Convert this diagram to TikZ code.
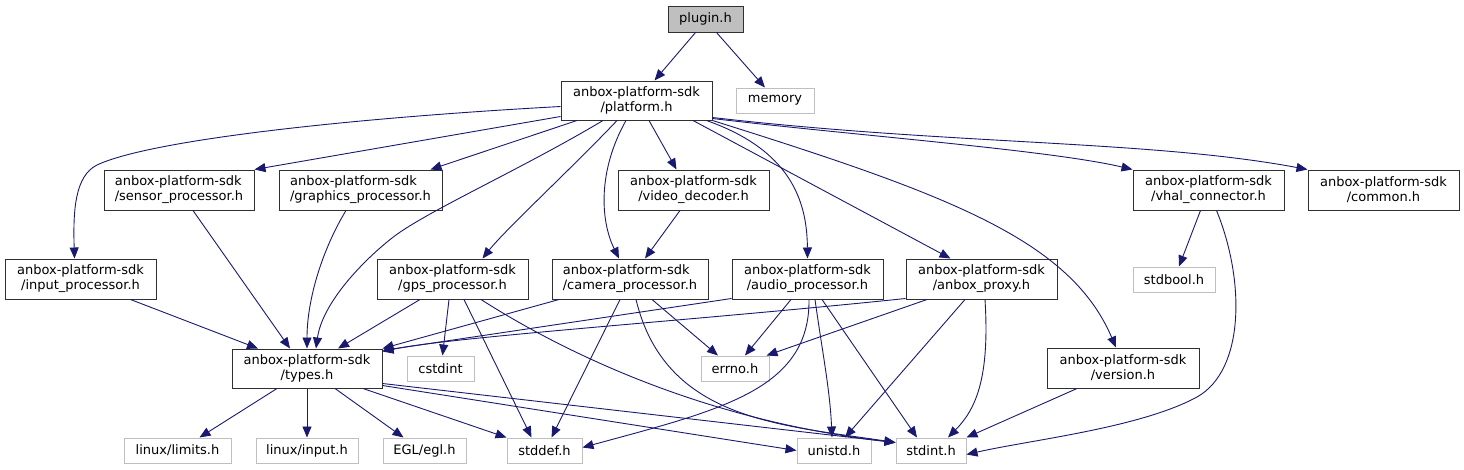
\documentclass[tikz,border=0pt]{standalone}
\usepackage{fontspec}
\setmainfont{DejaVu Sans}
\usetikzlibrary{arrows.meta}
\definecolor{edgecol}{HTML}{191970}
\definecolor{lgray}{HTML}{BFBFBF}
\definecolor{bord}{HTML}{303030}
\begin{document}
\begin{tikzpicture}[x=1pt,y=-1pt,font=\fontsize{13}{15}\selectfont,
  nb/.style={draw=bord,line width=1pt,inner sep=0pt,align=center,minimum height=40pt,minimum width=151pt},
  ext/.style={draw=lgray,line width=1pt,inner sep=0pt,minimum height=25pt},
  e/.style={draw=edgecol,line width=0.9pt,-{Triangle[length=11pt,width=9pt]}}]
\useasboundingbox (0,0) rectangle (1464,469);
% nodes
\node[draw=bord,line width=1pt,fill=lgray,inner sep=0pt,minimum width=75pt,minimum height=26pt] (plugin) at (705.5,19) {plugin.h};
\node[nb,minimum height=39pt] (platform) at (636.5,100.5) {anbox-platform-sdk\\/platform.h};
\node[ext,minimum width=78pt] (memory) at (775,100.5) {memory};
\node[nb,minimum width=150pt,align=left] (sensor) at (179,190) {anbox-platform-sdk\\/sensor\_processor.h};
\node[nb,minimum width=163pt,align=left] (graphics) at (360.5,190) {anbox-platform-sdk\\/graphics\_processor.h};
\node[nb] (video) at (693.5,190) {anbox-platform-sdk\\/video\_decoder.h};
\node[nb] (vhal) at (1208.5,190) {anbox-platform-sdk\\/vhal\_connector.h};
\node[nb] (common) at (1383.5,190) {anbox-platform-sdk\\/common.h};
\node[nb] (input) at (80.5,279) {anbox-platform-sdk\\/input\_processor.h};
\node[nb] (gps) at (452.5,279) {anbox-platform-sdk\\/gps\_processor.h};
\node[nb,minimum width=156pt,align=left] (camera) at (630,279) {anbox-platform-sdk\\/camera\_processor.h};
\node[nb] (audio) at (807.5,279) {anbox-platform-sdk\\/audio\_processor.h};
\node[nb] (anbox) at (981.5,279) {anbox-platform-sdk\\/anbox\_proxy.h};
\node[ext,minimum width=82pt] (stdbool) at (1174,279.5) {stdbool.h};
\node[nb,minimum width=150pt,minimum height=39pt] (types) at (307,368.5) {anbox-platform-sdk\\/types.h};
\node[ext,minimum width=67pt] (cstdint) at (440.5,368.5) {cstdint};
\node[ext,minimum width=68pt] (errno) at (735,368.5) {errno.h};
\node[nb,minimum width=152pt] (version) at (1123,368) {anbox-platform-sdk\\/version.h};
\node[ext,minimum width=107pt] (limits) at (177.5,450.5) {linux/limits.h};
\node[ext,minimum width=102pt] (linput) at (307,450.5) {linux/input.h};
\node[ext,minimum width=83pt] (egl) at (424.5,450.5) {EGL/egl.h};
\node[ext,minimum width=75pt] (stddef) at (544.5,450.5) {stddef.h};
\node[ext,minimum width=74pt] (unistd) at (834,450.5) {unistd.h};
\node[ext,minimum width=70pt] (stdint) at (931,450.5) {stdint.h};
% plugin
\draw[e] ([xshift=-10pt]plugin.south) -- ([xshift=18pt]platform.north);
\draw[e] ([xshift=11pt]plugin.south) -- ([xshift=-10pt]memory.north);
% platform
\draw[e] ([yshift=-6pt]platform.west) .. controls (350,118) and (150,140) .. (97,165) .. controls (75,176) and (73,210) .. ([xshift=-6pt]input.north);
\draw[e] ([yshift=4pt]platform.south west) -- (sensor.north east);
\draw[e] ([xshift=-59.5pt]platform.south) -- ([xshift=70pt]graphics.north);
\draw[e] ([xshift=-33.5pt]platform.south) .. controls (520,170) and (425,212) .. (392,238) .. controls (359,264) and (322,305) .. ([xshift=9pt]types.north);
\draw[e] ([xshift=-19.5pt]platform.south) .. controls (575,165) and (505,230) .. ([xshift=30pt]gps.north);
\draw[e] ([xshift=-10.5pt]platform.south) .. controls (598,170) and (600,220) .. ([xshift=-11pt]camera.north);
\draw[e] ([xshift=12.5pt]platform.south) -- ([xshift=-17pt]video.north);
\draw[e] ([xshift=-6pt]platform.south east) .. controls (790,150) and (807,200) .. (audio.north);
\draw[e] ([xshift=56.5pt]platform.south) -- ([xshift=-31pt]anbox.north);
\draw[e] (platform.south east) .. controls (950,195) and (1070,240) .. ([xshift=-7pt]version.north);
\draw[e] ([yshift=2pt]platform.south east) .. controls (850,135) and (1050,150) .. (vhal.north west);
\draw[e] ([yshift=3pt]platform.south east) .. controls (950,145) and (1150,140) .. (common.north west);
% second row
\draw[e] ([xshift=14pt]sensor.south) -- ([xshift=-17pt]types.north);
\draw[e] ([xshift=-14.5pt]graphics.south) .. controls (322,250) and (307,300) .. (types.north);
\draw[e] ([xshift=-13.5pt]video.south) -- ([xshift=15pt]camera.north);
\draw[e] ([xshift=-8pt]vhal.south) -- ([xshift=5pt]stdbool.north);
\draw[e] ([xshift=8pt]vhal.south) .. controls (1245,280) and (1245,370) .. (1197,397) .. controls (1140,428) and (1030,440) .. ([yshift=-4pt]stdint.east);
% third row
\draw[e] ([xshift=50pt]input.south) -- ([xshift=-49pt]types.north);
\draw[e] ([xshift=-32.5pt]gps.south) -- ([xshift=31pt]types.north);
\draw[e] ([xshift=-3.5pt]gps.south) -- ([xshift=2pt]cstdint.north);
\draw[e] ([xshift=11.5pt]gps.south) -- ([xshift=-13pt]stddef.north);
\draw[e] ([xshift=28.5pt]gps.south) .. controls (560,350) and (700,420) .. ([yshift=8pt]stdint.west);
\draw[e] ([xshift=-71pt]camera.south) -- (types.north east);
\draw[e] ([xshift=-10pt]camera.south) -- ([xshift=7pt]stddef.north);
\draw[e] ([xshift=6pt]camera.south) .. controls (665,420) and (780,425) .. ([yshift=8pt]stdint.west);
\draw[e] ([xshift=22pt]camera.south) -- ([xshift=-17pt]errno.north);
\draw[e] ([yshift=1pt]audio.south west) -- ([yshift=-2pt]types.north east);
\draw[e] ([xshift=-16.5pt]audio.south) -- ([xshift=10pt]errno.north);
\draw[e] ([xshift=1.5pt]audio.south) .. controls (810,390) and (720,410) .. ([yshift=3pt]stddef.east);
\draw[e] ([xshift=7.5pt]audio.south) .. controls (822,350) and (830,390) .. ([xshift=-2pt]unistd.north);
\draw[e] ([xshift=14.5pt]audio.south) -- ([xshift=-14pt]stdint.north);
\draw[e] ([yshift=1pt]anbox.south west) .. controls (700,320) and (450,337) .. ([yshift=-3pt]types.north east);
\draw[e] ([xshift=-54.5pt]anbox.south) -- ([xshift=-3pt]errno.north east);
\draw[e] ([xshift=-16.5pt]anbox.south) -- ([xshift=11pt]unistd.north);
\draw[e] ([xshift=3.5pt]anbox.south) .. controls (990,380) and (975,410) .. ([xshift=17pt]stdint.north);
\draw[e] ([xshift=-46pt]version.south) -- (stdint.north east);
% types
\draw[e] ([xshift=-30pt]types.south) -- ([xshift=22pt]limits.north);
\draw[e] (types.south) -- (linput.north);
\draw[e] ([xshift=28pt]types.south) -- ([xshift=-21pt]egl.north);
\draw[e] ([xshift=56pt]types.south) -- (stddef.north west);
\draw[e] ([yshift=3pt]types.south east) -- (unistd.west);
\draw[e] ([yshift=5pt]types.south east) -- ([yshift=8pt]stdint.west);
\end{tikzpicture}
\end{document}
